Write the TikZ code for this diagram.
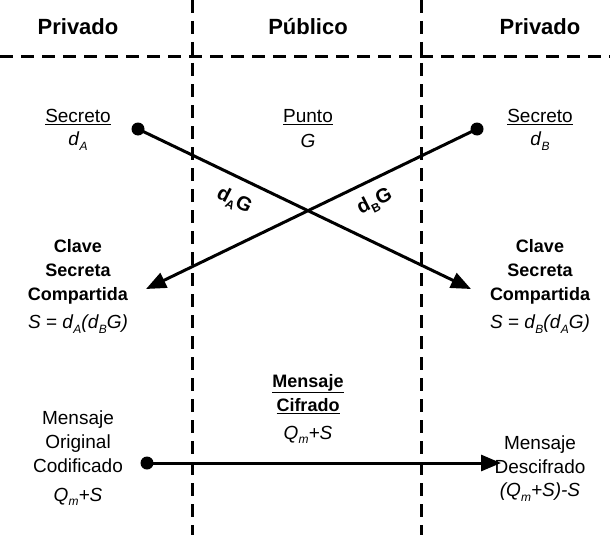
\documentclass[tikz,border=0pt]{standalone}
\usepackage{fontspec}
\setmainfont{Liberation Sans}
\usetikzlibrary{arrows.meta}
\newcommand\sbs[1]{\raisebox{-0.45ex}{\fontsize{12}{13}\selectfont #1}}
\begin{document}
\begin{tikzpicture}[x=1pt,y=-1pt,
  head/.style={font=\fontsize{22}{25}\selectfont\bfseries},
  txt/.style={font=\fontsize{19}{22}\selectfont, align=center, inner sep=0pt},
  btxt/.style={txt, font=\fontsize{18}{21}\selectfont\bfseries},
  lbl/.style={txt, font=\fontsize{20}{22}\selectfont\bfseries},
  sep/.style={line width=3pt, dash pattern=on 13pt off 8pt},
  conn/.style={line width=3pt, -{Triangle[length=20pt,width=16pt]}},
  dotn/.style={circle, fill=black, inner sep=0pt, minimum size=13pt}]
\useasboundingbox (0,0) rectangle (610,535);
% separators
\coordinate (vl1) at (192,0); \coordinate (vl1b) at (192,535);
\coordinate (vl2) at (421,0); \coordinate (vl2b) at (421,535);
\coordinate (hl1) at (0,57); \coordinate (hl2) at (610,57);
\draw[sep] (vl1) -- (vl1b);
\draw[sep] (vl2) -- (vl2b);
\draw[sep] (hl1) -- (hl2);
% headers
\node[head] (h1) at (78,27) {Privado};
\node[head] (h2) at (308,27) {Público};
\node[head] (h3) at (540,27) {Privado};
% secrets
\node[txt] (s1) at (78,117) {\underline{Secreto}};
\node[txt] (s1v) at (78,141) {\textit{d}\sbs{\textit{A}}};
\node[txt] (p) at (308,117) {\underline{Punto}};
\node[txt] (pv) at (308,141) {\textit{G}};
\node[txt] (s2) at (540,117) {\underline{Secreto}};
\node[txt] (s2v) at (540,141) {\textit{d}\sbs{\textit{B}}};
% dots
\node[dotn] (da) at (138,129) {};
\node[dotn] (db) at (477,129) {};
\coordinate (ea) at (471,289);
\coordinate (eb) at (146,289);
\draw[conn] (da.center) -- (ea);
\draw[conn] (db.center) -- (eb);
\node[lbl, rotate=-27] (la) at (234,201) {d\sbs{A}G};
\node[lbl, rotate=27] (lb) at (375,202) {d\sbs{B}G};
% shared key
\node[btxt] (k1) at (78,272) {Clave\\[3pt]Secreta\\[3pt]Compartida};
\node[txt] (k1v) at (78,324) {\textit{S} = \textit{d}\sbs{\textit{A}}\textit{(d}\sbs{\textit{B}}\textit{G)}};
\node[btxt] (k2) at (540,272) {Clave\\[3pt]Secreta\\[3pt]Compartida};
\node[txt] (k2v) at (540,324) {\textit{S} = \textit{d}\sbs{\textit{B}}\textit{(d}\sbs{\textit{A}}\textit{G)}};
% message
\node[btxt] (mc) at (308,394) {\underline{Mensaje}\\[3pt]\underline{Cifrado}};
\node[txt] (mcv) at (308,435) {\textit{Q}\sbs{\textit{m}}\textit{+S}};
\node[txt] (mo) at (78,442) {Mensaje\\[2pt]Original\\[2pt]Codificado};
\node[txt] (mov) at (78,497) {\textit{Q}\sbs{\textit{m}}\textit{+S}};
\node[txt] (md) at (540,455) {Mensaje\\[2pt]Descifrado};
\node[txt] (mdv) at (540,492) {\textit{(Q}\sbs{\textit{m}}\textit{+S)-S}};
\node[dotn] (dm) at (147,463) {};
\coordinate (em) at (501,463);
\draw[conn] (dm.center) -- (em);
\end{tikzpicture}
\end{document}
